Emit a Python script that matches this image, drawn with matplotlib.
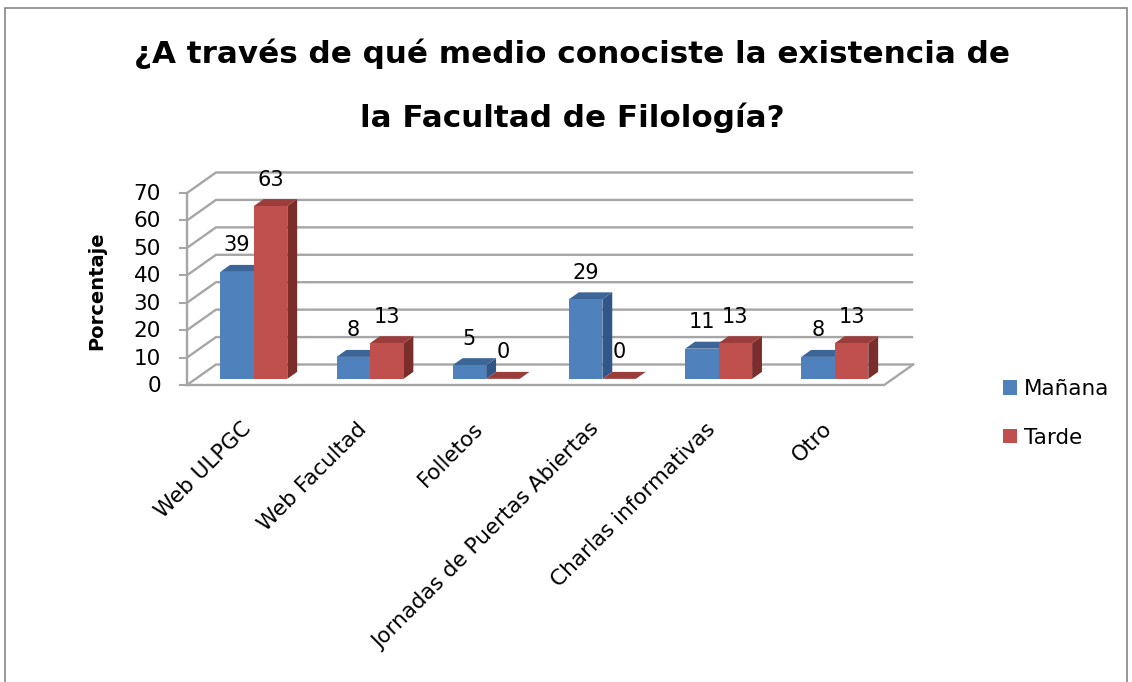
import matplotlib
matplotlib.use('Agg')
import matplotlib.pyplot as plt
from matplotlib.patches import Polygon, Patch, Rectangle

# ---------------- data ----------------
categories = ['Web ULPGC', 'Web Facultad', 'Folletos',
              'Jornadas de Puertas Abiertas', 'Charlas informativas', 'Otro']
manana = [39, 8, 5, 29, 11, 8]
tarde = [63, 13, 0, 0, 13, 13]
series_names = ['Mañana', 'Tarde']
yticks = [0, 10, 20, 30, 40, 50, 60, 70]
title_lines = ['¿A través de qué medio conociste la existencia de',
               'la Facultad de Filología?']
ylabel = 'Porcentaje'

# ---------------- styling ----------------
W, H = 1132, 682
FONT = 'DejaVu Sans'
plt.rcParams['font.family'] = [FONT]

blue = dict(front='#4F81BD', top='#3D6698', side='#30568A')
red = dict(front='#C0504D', top='#9B3D3A', side='#7A2E2C')
grid_c = '#A6A6A6'

UX = 116.2          # px per category unit
UY = 2.743          # px per value unit
X0, Y0 = 187, 385   # pixel of front-left, value 0
DX = 29 / UX        # depth offset in category units
DY = 20.5 / UY      # depth offset in value units
YMAX = yticks[-1]
NCAT = len(categories)

fig = plt.figure(figsize=(W / 100, H / 100), dpi=100)
x1 = X0 + (NCAT + DX) * UX
y1 = Y0 - (YMAX + DY) * UY
ax = fig.add_axes([X0 / W, (H - Y0) / H, (x1 - X0) / W, (Y0 - y1) / H])
ax.set_xlim(0, NCAT + DX)
ax.set_ylim(0, YMAX + DY)
ax.axis('off')

# ---------------- walls / grid ----------------
TL = 7 / UX
for t in yticks:
    ax.plot([0, DX, NCAT + DX], [t, t + DY, t + DY], color=grid_c, lw=1.7,
            clip_on=False, zorder=1, solid_joinstyle='miter', solid_capstyle='butt')
    ax.plot([-TL, 0], [t, t], color=grid_c, lw=1.5, clip_on=False, zorder=1)
    ax.text(-26 / UX, t - 7 / UY, str(t), ha='right', va='baseline',
            fontsize=15.5, color='black')
ax.plot([0, 0], [0, YMAX], color=grid_c, lw=1.7, clip_on=False, zorder=1)
ax.plot([0, NCAT, NCAT + DX], [0, 0, DY], color=grid_c, lw=1.7,
        clip_on=False, zorder=1, solid_joinstyle='miter')

# ---------------- bars ----------------
w = 33.5 / UX
d0 = 0.3
db = 0.34


def bar3d(xl, v, cols, z):
    base = d0 * DY
    top = v + base
    xl = xl + d0 * DX
    xr = xl + w
    ox, oy = db * DX, db * DY
    side = [(xr, base), (xr, top), (xr + ox, top + oy), (xr + ox, base + oy)]
    topf = [(xl, top), (xr, top), (xr + ox, top + oy), (xl + ox, top + oy)]
    front = [(xl, base), (xr, base), (xr, top), (xl, top)]
    if v > 0:
        ax.add_patch(Polygon(side, closed=True, facecolor=cols['side'],
                             edgecolor='none', clip_on=False, zorder=z))
    ax.add_patch(Polygon(topf, closed=True, facecolor=cols['top'],
                         edgecolor='none', clip_on=False, zorder=z))
    if v > 0:
        ax.add_patch(Polygon(front, closed=True, facecolor=cols['front'],
                             edgecolor='none', clip_on=False, zorder=z))
    ax.text(xl + w / 2, top + oy + 13.5 / UY, str(v), ha='center',
            va='baseline', fontsize=15, color='black', zorder=10)


for i in range(NCAT):
    c = i + 0.5
    bar3d(c - w, manana[i], blue, 3 + 2 * i)
    bar3d(c, tarde[i], red, 4 + 2 * i)

# ---------------- category labels ----------------
for i, cat in enumerate(categories):
    ax.text(i + 0.5 - 0.04, -12.3, cat, rotation=45, rotation_mode='anchor',
            ha='right', va='top', fontsize=15.5, color='black', clip_on=False)

# ---------------- titles ----------------
fig.text(572 / W, 1 - 63 / H, title_lines[0], ha='center', va='baseline',
         fontsize=22.3, fontweight='bold')
fig.text(572 / W, 1 - 127 / H, title_lines[1], ha='center', va='baseline',
         fontsize=22.3, fontweight='bold')
fig.text(97 / W, 1 - 291 / H, ylabel, rotation=90, ha='center', va='center',
         fontsize=14, fontweight='bold')

# ---------------- legend ----------------
handles = [Patch(facecolor=blue['front']), Patch(facecolor=red['front'])]
fig.legend(handles, series_names, loc='upper left',
           bbox_to_anchor=(1003 / W, 1 - 379 / H), frameon=False, fontsize=15.5,
           handlelength=0.66, handleheight=0.66, handletextpad=0.3,
           labelspacing=1.33, borderpad=0, borderaxespad=0)

# ---------------- chart border ----------------
fig.patches.append(Rectangle((5 / W, -0.2), (1127 - 5) / W, 1.2 - 8 / H,
                             transform=fig.transFigure, fill=False,
                             edgecolor='#868686', lw=1.2))

fig.savefig('out.png', dpi=100)
